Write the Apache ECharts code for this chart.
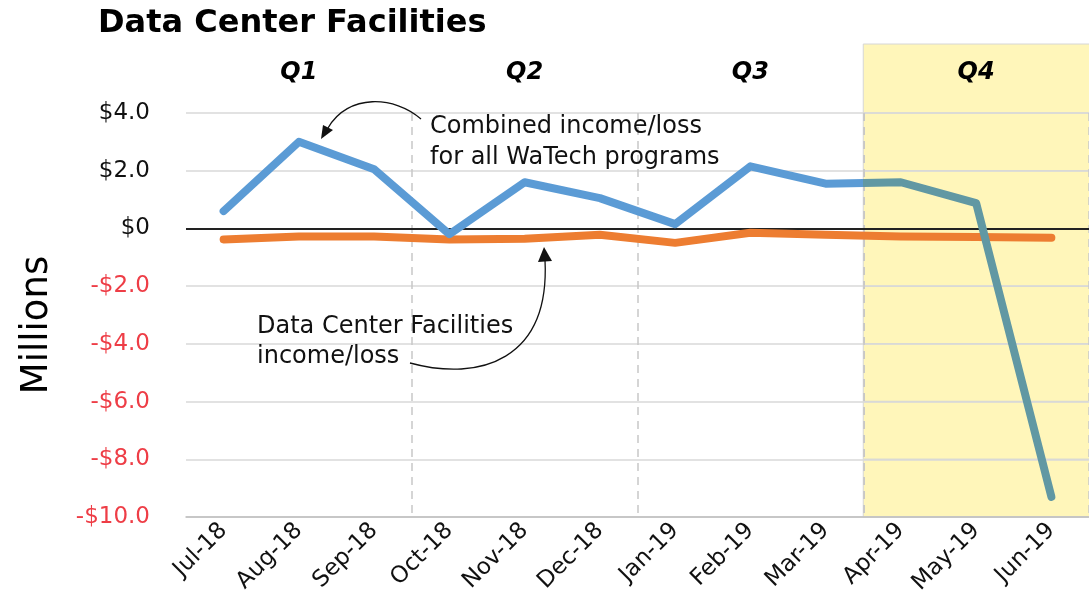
<!DOCTYPE html>
<html>
<head>
<meta charset="utf-8">
<script src="https://cdn.jsdelivr.net/npm/echarts@6/dist/echarts.min.js"></script>
<style>
html,body{margin:0;padding:0;background:#fff;}
#main{width:1089px;height:606px;}
</style>
</head>
<body>
<div id="main"></div>
<script>
// ---- data ----
var months = ['Jul-18','Aug-18','Sep-18','Oct-18','Nov-18','Dec-18','Jan-19','Feb-19','Mar-19','Apr-19','May-19','Jun-19'];
var quarters = ['Q1','Q2','Q3','Q4'];
var combined = [0.6, 3.0, 2.05, -0.2, 1.6, 1.05, 0.15, 2.15, 1.55, 1.6, 0.88, -9.3];
var dataCenter = [-0.38, -0.28, -0.28, -0.38, -0.36, -0.22, -0.5, -0.15, -0.22, -0.28, -0.3, -0.32];
var yTickValues = [-10, -8, -6, -4, -2, 0, 2, 4];
var yTickLabels = ['-$10.0', '-$8.0', '-$6.0', '-$4.0', '-$2.0', '$0', '$2.0', '$4.0'];
var highlightStart = 9; // first month of the shaded quarter (Apr-19)

var FONT = 'DejaVu Sans';
var W = 1089;
var topLabels = months.map(function (m, i) { return (i % 3 === 1) ? quarters[(i - 1) / 3] : ''; });

var chart = echarts.init(document.getElementById('main'));
var option = {
  animation: false,
  backgroundColor: '#fff',
  title: {
    text: 'Data Center Facilities',
    left: 93, top: 3,
    textStyle: { fontFamily: FONT, fontSize: 32, fontWeight: 'bold', color: '#000' }
  },
  grid: { left: 186, right: -2, top: 113, bottom: 89, containLabel: false },
  xAxis: [{
    type: 'category', data: months, boundaryGap: true, position: 'bottom', z: 5,
    axisLine: { show: true, onZero: false, lineStyle: { color: '#bfbfbf', width: 1.5 } },
    axisTick: { show: false },
    axisLabel: { rotate: 45, margin: 10, fontFamily: FONT, fontSize: 23, color: '#111', interval: 0 },
    splitLine: {
      show: true,
      interval: function (i) { return i === 3 || i === 6 || i === 9; },
      lineStyle: { color: '#c8c8c8', width: 1.5, type: [8, 6] }
    }
  }, {
    type: 'category', data: topLabels, boundaryGap: true, position: 'top', z: 5,
    axisLine: { show: false }, axisTick: { show: false }, splitLine: { show: false },
    axisLabel: { interval: 0, margin: 28, fontFamily: FONT, fontSize: 24, fontWeight: 'bold', fontStyle: 'italic', color: '#000' }
  }],
  yAxis: {
    type: 'value', min: -10, max: 4, interval: 2, z: 5,
    name: 'Millions', nameLocation: 'middle', nameGap: 130, nameRotate: 90,
    nameTextStyle: { fontFamily: FONT, fontSize: 37, color: '#000', padding: [0, 20, 0, 0] },
    axisLine: { show: false }, axisTick: { show: false },
    axisLabel: {
      margin: 36, fontFamily: FONT, fontSize: 23,
      formatter: function (v) { return yTickLabels[yTickValues.indexOf(v)]; },
      color: function (v) { return Number(v) < 0 ? '#ee3d46' : '#111'; }
    },
    splitLine: { show: true, lineStyle: { color: '#d9d9d9', width: 1.5 } }
  },
  series: [{
    name: 'Combined income/loss for all WaTech programs',
    type: 'line', data: combined, symbol: 'none', z: 8,
    lineStyle: { width: 8, cap: 'round', join: 'round', color: '#5b9bd5' }
  }, {
    name: 'Data Center Facilities income/loss',
    type: 'line', data: dataCenter, symbol: 'none', z: 7,
    lineStyle: { width: 8, cap: 'round', join: 'round', color: '#ed7d31' },
    markLine: {
      silent: true, symbol: 'none', label: { show: false }, z: 7,
      lineStyle: { color: '#222', width: 2, type: 'solid' },
      data: [{ yAxis: 0 }]
    }
  }, {
    name: 'Q4 band',
    type: 'custom', z: 1, silent: true, clip: false,
    encode: { x: 0, y: 1 },
    data: [[highlightStart, -10]],
    renderItem: function (params, api) {
      var p = api.coord([api.value(0), api.value(1)]);
      var half = api.size([1, 0])[0] / 2;
      var x0 = p[0] - half;
      var children = [{
        type: 'rect',
        shape: { x: x0, y: 44, width: W - x0 + 2, height: p[1] - 44 },
        style: { fill: '#fff6ba', stroke: '#d6d6d6', lineWidth: 1 }
      }];
      // grid lines seen through the shaded band
      yTickValues.forEach(function (v) {
        if (v === 0 || v === -10) return;
        var yy = api.coord([api.value(0), v])[1];
        children.push({
          type: 'line',
          shape: { x1: x0, y1: yy, x2: W + 2, y2: yy },
          style: { stroke: '#dcdcd0', lineWidth: 1.5 }
        });
      });
      var yTop = api.coord([api.value(0), yTickValues[yTickValues.length - 1]])[1];
      children.push({
        type: 'line',
        shape: { x1: x0 + 1, y1: yTop, x2: x0 + 1, y2: p[1] },
        style: { stroke: '#c8c8c0', lineWidth: 1.5, lineDash: [8, 6] }
      });
      return { type: 'group', children: children };
    }
  }]
};
chart.setOption(option);

// colour of the combined line inside the shaded quarter
var pMar = chart.convertToPixel({ xAxisIndex: 0 }, highlightStart - 1);
var pApr = chart.convertToPixel({ xAxisIndex: 0 }, highlightStart);
var stop = ((pMar + pApr) / 2) / W;

chart.setOption({
  series: [{
    lineStyle: {
      color: {
        type: 'linear', x: 0, y: 0, x2: W, y2: 0, global: true,
        colorStops: [
          { offset: 0, color: '#5b9bd5' }, { offset: stop, color: '#5b9bd5' },
          { offset: stop, color: '#6198a3' }, { offset: 1, color: '#6198a3' }
        ]
      }
    }
  }, {}, {}],
  graphic: [
    { type: 'text', z: 20, left: 430, top: 111,
      style: { text: 'Combined income/loss\nfor all WaTech programs', font: '24px "DejaVu Sans"', fill: '#111', lineHeight: 31 } },
    { type: 'bezierCurve', z: 20,
      shape: { x1: 421, y1: 119, cpx1: 395, cpy1: 96, cpx2: 348, cpy2: 93, x2: 328, y2: 128 },
      style: { stroke: '#111', lineWidth: 1.3, fill: null } },
    { type: 'polygon', z: 20,
      shape: { points: [[321, 139], [323, 125], [333, 130]] },
      style: { fill: '#111' } },
    { type: 'text', z: 20, left: 257, top: 312,
      style: { text: 'Data Center Facilities\nincome/loss', font: '24px "DejaVu Sans"', fill: '#111', lineHeight: 30 } },
    { type: 'bezierCurve', z: 20,
      shape: { x1: 410, y1: 363, cpx1: 480, cpy1: 382, cpx2: 550, cpy2: 360, x2: 545, y2: 260 },
      style: { stroke: '#111', lineWidth: 1.3, fill: null } },
    { type: 'polygon', z: 20,
      shape: { points: [[544, 247], [538, 262], [552, 261]] },
      style: { fill: '#111' } }
  ]
});
</script>
</body>
</html>
